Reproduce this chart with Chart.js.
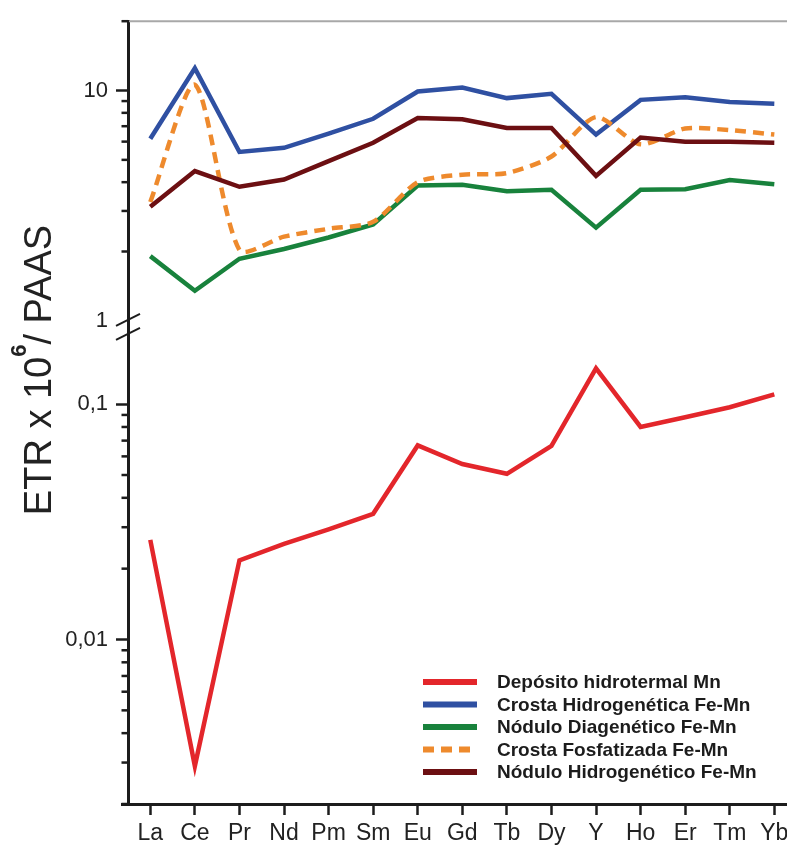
<!DOCTYPE html>
<html>
<head>
<meta charset="utf-8">
<title>ETR normalizados a PAAS</title>
<script src="https://cdn.jsdelivr.net/npm/chart.js@4/dist/chart.umd.min.js"></script>
<style>
  html, body { margin: 0; padding: 0; background: #fff; overflow: hidden; }
  canvas { display: block; }
</style>
</head>
<body>
<canvas id="etr" width="800" height="847"></canvas>
<script>
// Rare earth elements (x axis)
const elements = ['La', 'Ce', 'Pr', 'Nd', 'Pm', 'Sm', 'Eu', 'Gd', 'Tb', 'Dy', 'Y', 'Ho', 'Er', 'Tm', 'Yb'];

// PAAS-normalised concentrations (x 10^6)
const hidrotermalMn       = [0.0265, 0.0029, 0.0217, 0.0255, 0.0294, 0.0342, 0.0668, 0.0557, 0.0506, 0.0665, 0.142, 0.080, 0.088, 0.097, 0.110];
const crostaHidrogenetica = [6.17, 12.5, 5.41, 5.64, 6.5, 7.54, 9.9, 10.3, 9.27, 9.67, 6.44, 9.11, 9.36, 8.91, 8.76];
const noduloDiagenetico   = [1.91, 1.35, 1.86, 2.05, 2.30, 2.62, 3.87, 3.90, 3.65, 3.71, 2.54, 3.71, 3.73, 4.09, 3.92];
const crostaFosfatizada   = [3.28, 10.6, 2.03, 2.32, 2.51, 2.69, 4.0, 4.31, 4.38, 5.17, 7.67, 5.84, 6.84, 6.73, 6.44];
const noduloHidrogenetico = [3.13, 4.47, 3.82, 4.11, 4.94, 5.93, 7.60, 7.50, 6.88, 6.88, 4.26, 6.25, 5.99, 5.99, 5.93];

// Tick values of the two segments of the broken log axis
const upperTicks = [1, 2, 3, 4, 5, 6, 7, 8, 9, 10, 20];
const lowerTicks = [0.002, 0.003, 0.004, 0.005, 0.006, 0.007, 0.008, 0.009, 0.01,
                    0.02, 0.03, 0.04, 0.05, 0.06, 0.07, 0.08, 0.09, 0.1];
const tickLabels = { '1': '1', '10': '10', '0.1': '0,1', '0.01': '0,01' };

const FONT = '"Liberation Sans", Arial, Helvetica, sans-serif';
const INK = '#1c1c1c';
const CLEAR = 'rgba(0,0,0,0)';
Chart.defaults.font.family = FONT;

const isDecade = v => Math.abs(Math.log10(v) - Math.round(Math.log10(v))) < 1e-9;

function logSegment(ticksList, min, max, stackWeight, weight, hideTickAt) {
  return {
    type: 'logarithmic',
    position: 'left',
    stack: 'etr',
    stackWeight: stackWeight,
    weight: weight,
    min: min,
    max: max,
    afterBuildTicks: s => { s.ticks = ticksList.map(v => ({ value: v })); },
    afterFit: s => { s.width = 128; },
    border: { display: true, color: INK, width: 3 },
    grid: {
      display: true,
      drawOnChartArea: false,
      drawTicks: true,
      tickLength: 12,
      tickWidth: 2.5,
      // long marks only at the decades; short marks are added by the plugin below
      tickColor: c => (c.tick && isDecade(c.tick.value) && c.tick.value !== hideTickAt) ? INK : CLEAR
    },
    ticks: {
      autoSkip: false,
      padding: 8,
      color: '#222',
      font: { size: 22 },
      callback: v => tickLabels[String(v)] || ''
    }
  };
}

// Short minor ticks, axis break, frame line, rotated title and the legend box
const decorations = {
  id: 'decorations',
  afterDraw(chart) {
    const ctx = chart.ctx;
    const area = chart.chartArea;
    const yHigh = chart.scales.yHigh;

    ctx.save();
    // minor ticks on both log segments
    ctx.strokeStyle = INK;
    ctx.lineWidth = 2.5;
    ['yHigh', 'yLow'].forEach(id => {
      const sc = chart.scales[id];
      sc.ticks.forEach(t => {
        if (isDecade(t.value)) return;
        const y = sc.getPixelForValue(t.value);
        ctx.beginPath();
        ctx.moveTo(area.left - 6.5, y);
        ctx.lineTo(area.left, y);
        ctx.stroke();
      });
    });

    // x axis line runs slightly past the y axis
    ctx.lineWidth = 3;
    ctx.beginPath();
    ctx.moveTo(area.left - 7, area.bottom + 0.5);
    ctx.lineTo(area.left, area.bottom + 0.5);
    ctx.stroke();

    // top frame
    ctx.strokeStyle = '#a8a8a8';
    ctx.lineWidth = 2;
    ctx.beginPath();
    ctx.moveTo(area.left + 1, area.top);
    ctx.lineTo(chart.width, area.top);
    ctx.stroke();

    // axis break marks
    const yb = yHigh.getPixelForValue(1);
    ctx.strokeStyle = INK;
    ctx.lineWidth = 2;
    [yb - 1, yb + 13].forEach(y => {
      ctx.beginPath();
      ctx.moveTo(area.left - 12, y + 6);
      ctx.lineTo(area.left + 12, y - 6);
      ctx.stroke();
    });

    // y axis title with superscript exponent
    ctx.fillStyle = '#222';
    ctx.textBaseline = 'alphabetic';
    ctx.textAlign = 'left';
    const mainFont = '38px ' + FONT;
    const supFont = 'bold 22px ' + FONT;
    const partA = 'ETR x 10', partB = '6', partC = '/ PAAS';
    ctx.font = mainFont;
    const wa = ctx.measureText(partA).width;
    const wc = ctx.measureText(partC).width;
    ctx.font = supFont;
    const wb = ctx.measureText(partB).width;
    ctx.translate(51, 370);
    ctx.rotate(-Math.PI / 2);
    let x = -(wa + wb + wc) / 2;
    ctx.font = mainFont; ctx.fillText(partA, x, 0); x += wa;
    ctx.font = supFont; ctx.fillText(partB, x, -25); x += wb;
    ctx.font = mainFont; ctx.fillText(partC, x, 0);
    ctx.restore();

    // legend
    ctx.save();
    ctx.font = 'bold 19px ' + FONT;
    ctx.textBaseline = 'middle';
    ctx.textAlign = 'left';
    chart.data.datasets.forEach((ds, i) => {
      const y = 682 + i * 22.5;
      ctx.strokeStyle = ds.borderColor;
      ctx.lineWidth = 6;
      ctx.lineCap = 'butt';
      ctx.setLineDash(ds.borderDash ? [11, 7] : []);
      ctx.beginPath();
      ctx.moveTo(423, y);
      ctx.lineTo(477, y);
      ctx.stroke();
      ctx.setLineDash([]);
      ctx.fillStyle = INK;
      ctx.fillText(ds.label, 497, y + 1);
    });
    ctx.restore();
  }
};

new Chart(document.getElementById('etr'), {
  type: 'line',
  data: {
    labels: elements,
    datasets: [
      { label: 'Depósito hidrotermal Mn', data: hidrotermalMn, yAxisID: 'yLow', borderColor: '#e3262b', order: 5 },
      { label: 'Crosta Hidrogenética Fe-Mn', data: crostaHidrogenetica, yAxisID: 'yHigh', borderColor: '#2f50a2', order: 4 },
      { label: 'Nódulo Diagenético Fe-Mn', data: noduloDiagenetico, yAxisID: 'yHigh', borderColor: '#18823c', order: 3 },
      { label: 'Crosta Fosfatizada Fe-Mn', data: crostaFosfatizada, yAxisID: 'yHigh', borderColor: '#ee8a2d', borderDash: [11, 7], tension: 0.25, order: 2 },
      { label: 'Nódulo Hidrogenético Fe-Mn', data: noduloHidrogenetico, yAxisID: 'yHigh', borderColor: '#6c0f12', order: 1 }
    ]
  },
  options: {
    responsive: false,
    animation: false,
    devicePixelRatio: 1,
    layout: { padding: { top: 15, right: 3.4, bottom: 0, left: 0 } },
    elements: {
      line: { borderWidth: 4.5, tension: 0, fill: false },
      point: { radius: 0, hoverRadius: 0 }
    },
    plugins: { legend: { display: false }, tooltip: { enabled: false } },
    events: [],
    scales: {
      x: {
        type: 'category',
        position: 'bottom',
        offset: true,
        afterFit: s => { s.height = 43; },
        border: { color: INK, width: 3 },
        grid: { drawOnChartArea: false, drawTicks: true, tickLength: 11, tickWidth: 2.5, tickColor: INK },
        ticks: { autoSkip: false, maxRotation: 0, padding: 5, color: '#222', font: { size: 23 } }
      },
      yHigh: logSegment(upperTicks, 1, 20, 302, 2, 1),
      yLow: logSegment(lowerTicks, 0.002, 0.226, 487, 1, null)
    }
  },
  plugins: [decorations]
});
</script>
</body>
</html>
